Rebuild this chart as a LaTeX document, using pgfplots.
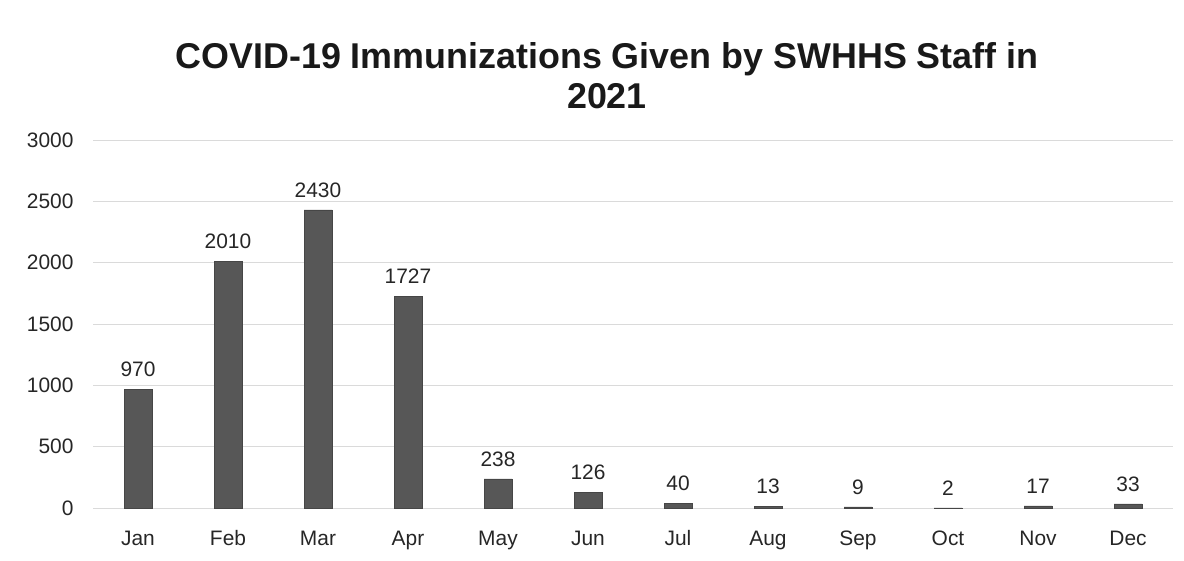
\documentclass[border=0pt]{standalone}
\usepackage{pgfplots}
\pgfplotsset{compat=1.18}
\usepackage{fontspec}
\setmainfont{Liberation Sans}
\usetikzlibrary{calc}
\definecolor{barc}{HTML}{575757}
\definecolor{gridc}{HTML}{DADADA}
\begin{document}
\begin{tikzpicture}
\begin{axis}[
  scale only axis,
  width=1080bp, height=368bp,
  xmin=-0.5, xmax=11.5,
  ymin=0, ymax=3000,
  ytick={0,500,...,3000},
  xtick={0,...,11},
  xticklabels={Jan,Feb,Mar,Apr,May,Jun,Jul,Aug,Sep,Oct,Nov,Dec},
  axis line style={draw=none},
  major tick length=0pt,
  ymajorgrids,
  grid style={gridc, line width=0.8pt},
  tick label style={font=\fontsize{21}{25}\selectfont, text=black!85},
  /pgf/number format/assume math mode=true,
  /pgf/number format/1000 sep={},
  yticklabel style={xshift=-16bp},
  xticklabel style={anchor=base, yshift=-37bp},
  clip=false,
]
\addplot[ybar, bar width=28bp, fill=barc, draw=barc!80!black,
  nodes near coords,
  nodes near coords style={font=\fontsize{21}{25}\selectfont, text=black!85, yshift=9bp},
  ] coordinates {
  (0,970) (1,2010) (2,2430) (3,1727) (4,238) (5,126)
  (6,40) (7,13) (8,9) (9,2) (10,17) (11,33)
};
\end{axis}
\node[font=\fontsize{36}{40}\selectfont\bfseries, text=black!90, align=center]
  at ($(current axis.north)+(-26bp,64bp)$)
  {COVID-19 Immunizations Given by SWHHS Staff in\\2021};
\path[use as bounding box] ($(current axis.south west)+(-93bp,-52bp)$)
  rectangle ($(current axis.north east)+(11bp,140bp)$);
\end{tikzpicture}
\end{document}
